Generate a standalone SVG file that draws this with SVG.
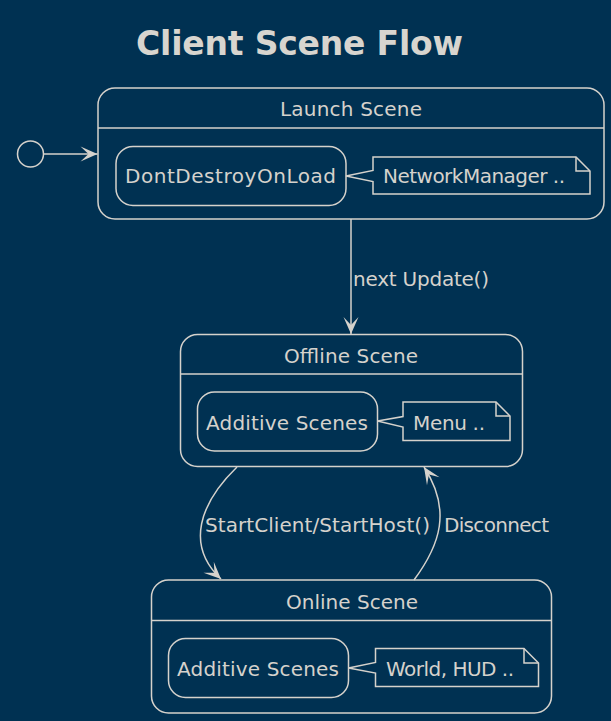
<svg xmlns="http://www.w3.org/2000/svg" width="611" height="721" viewBox="0 0 611 721">
<defs>
<style>
.bg{fill:#003152}
.box{fill:none;stroke:#d5d2cc;stroke-width:1.5}
.ln{fill:none;stroke:#d5d2cc;stroke-width:1.5}
.t{font-family:"DejaVu Sans",Verdana,sans-serif;font-size:20px;fill:#d5d2cc}
.title{font-family:"DejaVu Sans",Verdana,sans-serif;font-size:33px;font-weight:bold;fill:#d8d5cf}
.c{text-anchor:middle}
</style>
<marker id="arr" markerUnits="userSpaceOnUse" markerWidth="20" markerHeight="18" refX="0" refY="0" orient="auto" overflow="visible">
<path d="M0,0 L-17,-7.5 L-9,0 L-17,7.5 Z" fill="#d5d2cc"/>
</marker>
</defs>
<rect class="bg" x="0" y="0" width="611" height="721"/>
<text class="title" x="136" y="55" textLength="327" lengthAdjust="spacing">Client Scene Flow</text>

<g id="start">
<circle cx="30.5" cy="154" r="13" fill="#003152" stroke="#d5d2cc" stroke-width="1.5"/>
</g>

<g id="launch">
<rect class="box" x="98" y="88" width="506" height="131" rx="17"/>
<line class="ln" x1="98" y1="128" x2="604" y2="128"/>
<text class="t" x="280" y="116" textLength="142" lengthAdjust="spacing">Launch Scene</text>
<rect class="box" x="116" y="146.5" width="230" height="59" rx="17"/>
<text class="t" x="125" y="183" textLength="211" lengthAdjust="spacing">DontDestroyOnLoad</text>
<path class="box" d="M373,170.5 L373,157 L576,157 L590,171 L590,194 L373,194 L373,181.5 L346,176 Z"/>
<path class="ln" d="M576,157 L576,171 L590,171"/>
<text class="t" x="383" y="183" textLength="182" lengthAdjust="spacing">NetworkManager ..</text>
</g>

<g id="offline">
<rect class="box" x="180.5" y="334.5" width="342" height="132" rx="17"/>
<line class="ln" x1="180.5" y1="374" x2="522.5" y2="374"/>
<text class="t" x="284" y="363" textLength="134" lengthAdjust="spacing">Offline Scene</text>
<rect class="box" x="197.5" y="392" width="180" height="59" rx="17"/>
<text class="t" x="206" y="430" textLength="162" lengthAdjust="spacing">Additive Scenes</text>
<path class="box" d="M403,416.5 L403,402 L496,402 L510,416 L510,440.5 L403,440.5 L403,427 L377.5,421 Z"/>
<path class="ln" d="M496,402 L496,416 L510,416"/>
<text class="t" x="413" y="430" textLength="72" lengthAdjust="spacing">Menu ..</text>
</g>

<g id="online">
<rect class="box" x="151.5" y="580" width="400" height="133" rx="17"/>
<line class="ln" x1="151.5" y1="620.5" x2="551.5" y2="620.5"/>
<text class="t" x="286" y="609" textLength="132" lengthAdjust="spacing">Online Scene</text>
<rect class="box" x="168.5" y="638.5" width="180" height="59" rx="17"/>
<text class="t" x="177" y="676" textLength="162" lengthAdjust="spacing">Additive Scenes</text>
<path class="box" d="M375.5,662.5 L375.5,648.5 L524,648.5 L538.5,663 L538.5,686.5 L375.5,686.5 L375.5,673 L348.5,668 Z"/>
<path class="ln" d="M524,648.5 L524,663 L538.5,663"/>
<text class="t" x="386" y="676" textLength="128" lengthAdjust="spacing">World, HUD ..</text>
</g>

<g id="connectors">
<line class="ln" x1="43.5" y1="154" x2="97.5" y2="154" marker-end="url(#arr)"/>
<line class="ln" x1="351" y1="219" x2="351" y2="334" marker-end="url(#arr)"/>
<text class="t" x="353" y="286" textLength="136" lengthAdjust="spacing">next Update()</text>
<path class="ln" d="M237,467 C200,503 185,545 221,579" marker-end="url(#arr)"/>
<text class="t" x="205" y="532" textLength="225" lengthAdjust="spacing">StartClient/StartHost()</text>
<path class="ln" d="M414,580 C440,545 452,510 424,467" marker-end="url(#arr)"/>
<text class="t" x="444" y="532" textLength="105" lengthAdjust="spacing">Disconnect</text>
</g>
</svg>
